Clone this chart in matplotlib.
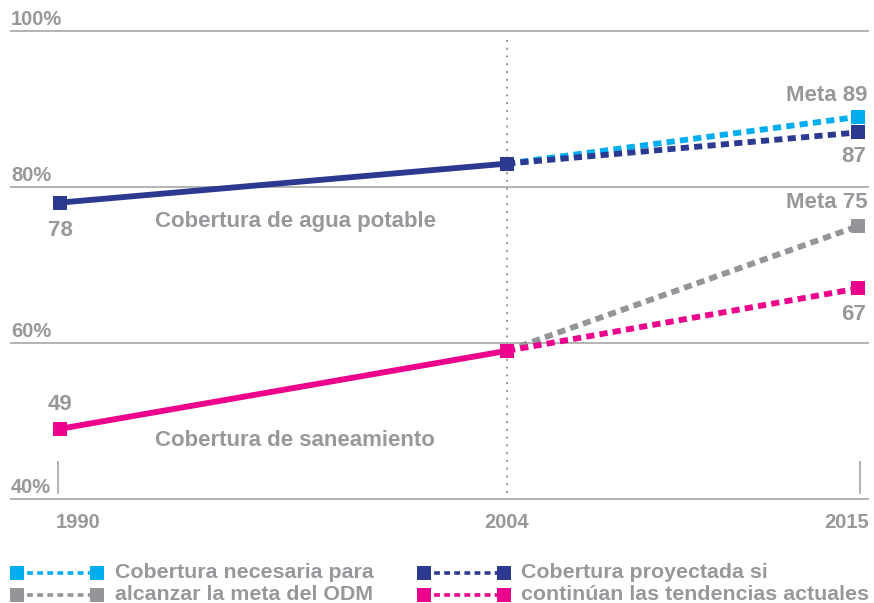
import matplotlib
matplotlib.use("Agg")
import matplotlib.pyplot as plt

# data
years = [1990, 2004, 2015]
agua_hist = [78, 83]          # 1990, 2004
agua_meta = [83, 89]          # 2004 -> 2015 needed for MDG
agua_tend = [83, 87]          # 2004 -> 2015 current trend
san_hist = [49, 59]
san_meta = [59, 75]
san_tend = [59, 67]
y_ticks = [40, 60, 80, 100]
y_tick_labels = ["40%", "60%", "80%", "100%"]

CYAN = "#00aeef"
NAVY = "#2b3990"
GRAY = "#939598"
MAGENTA = "#ec008c"
GRID = "#b3b3b3"
TXT = "#97989b"

plt.rcParams['font.family'] = ['Liberation Sans', 'DejaVu Sans']

W, H = 874, 603
fig = plt.figure(figsize=(W / 100, H / 100), dpi=100)
ax = fig.add_axes([0, 0, 1, 1])
ax.set_axis_off()

# pixel mapping: year 1990 -> x 60, 31.93 px/yr ; 40% -> y 499, 7.8 px per %
ax.set_xlim(1990 - 60 / 31.93, 1990 + (W - 60) / 31.93)
ax.set_ylim(40 - (H - 499) / 7.8, 40 + 499 / 7.8)


def px(x, y):
    # pixel coords (top-left origin) -> axes fraction
    return x / W, 1 - y / H


fs = 16
bold = dict(fontweight="bold", color=TXT, fontsize=fs)
small = dict(fontweight="bold", color=TXT, fontsize=14.5)
leg = dict(fontweight="bold", color=TXT, fontsize=15.4)

# gridlines
for v, lab in zip(y_ticks, y_tick_labels):
    ax.plot([1990 - 49 / 31.93, 2015 + 10 / 31.93], [v, v], color=GRID,
            lw=1.4, zorder=1)
    ax.text(1990 - 49 / 31.93, v + 0.3, lab, ha="left", va="bottom", **small)

# tick marks at 1990 / 2015, dotted at 2004
for yr in [1990 - 2 / 31.93, 2015 + 2 / 31.93]:
    ax.plot([yr, yr], [40.8, 44.8], color=GRID, lw=1.4, zorder=1)
ax.plot([2004, 2004], [40.8, 98.8], color=GRAY, lw=1.4,
        linestyle=(0, (1, 3)), zorder=1)

dash = (0, (1.4, 0.9))
lw = 4.2
ms = 10.5

# projections
ax.plot(years[1:], agua_meta, color=CYAN, lw=lw, linestyle=dash,
        dash_capstyle="butt", zorder=3)
ax.plot(years[1:], agua_tend, color=NAVY, lw=lw, linestyle=dash,
        dash_capstyle="butt", zorder=3)
ax.plot(years[1:], san_meta, color=GRAY, lw=lw, linestyle=dash,
        dash_capstyle="butt", zorder=3)
ax.plot(years[1:], san_tend, color=MAGENTA, lw=lw, linestyle=dash,
        dash_capstyle="butt", zorder=3)
ax.plot(years[2], agua_meta[1], "s", color=CYAN, ms=ms, mew=0, zorder=4)
ax.plot(years[2], agua_tend[1], "s", color=NAVY, ms=ms, mew=0, zorder=4)
ax.plot(years[2], san_meta[1], "s", color=GRAY, ms=ms, mew=0, zorder=4)
ax.plot(years[2], san_tend[1], "s", color=MAGENTA, ms=ms, mew=0, zorder=4)

# history
ax.plot(years[:2], agua_hist, color=NAVY, lw=lw, marker="s", ms=ms, mew=0,
        zorder=5)
ax.plot(years[:2], san_hist, color=MAGENTA, lw=lw, marker="s", ms=ms, mew=0,
        zorder=5)

ax.text(years[0], agua_hist[0] - 3.6, str(agua_hist[0]), ha="center",
        va="center", **bold)
ax.text(years[0], san_hist[0] + 3.1, str(san_hist[0]), ha="center",
        va="center", **bold)
ax.text(*px(868, 95), "Meta %d" % agua_meta[1], ha="right", va="center",
        transform=ax.transAxes, **bold)
ax.text(*px(866, 157), str(agua_tend[1]), ha="right", va="center",
        transform=ax.transAxes, **bold)
ax.text(*px(868, 202), "Meta %d" % san_meta[1], ha="right", va="center",
        transform=ax.transAxes, **bold)
ax.text(*px(866, 315), str(san_tend[1]), ha="right", va="center",
        transform=ax.transAxes, **bold)
ax.text(*px(155, 222), "Cobertura de agua potable", ha="left", va="center",
        transform=ax.transAxes, **bold)
ax.text(*px(155, 441), "Cobertura de saneamiento", ha="left", va="center",
        transform=ax.transAxes, **bold)

# year labels
ax.text(*px(78, 522), "1990", ha="center", va="center",
        transform=ax.transAxes, **small)
ax.text(*px(507, 522), "2004", ha="center", va="center",
        transform=ax.transAxes, **small)
ax.text(*px(869, 522), "2015", ha="right", va="center",
        transform=ax.transAxes, **small)


# legend
def legend_item(x0, y, color):
    xa, ya = px(x0 + 7, y)
    xb, _ = px(x0 + 87, y)
    ax.plot([xa, xb], [ya, ya], color=color, lw=2.6,
            linestyle=(0, (1.6, 1.2)), dash_capstyle="butt",
            transform=ax.transAxes, clip_on=False, zorder=3)
    ax.plot([xa, xb], [ya, ya], "s", color=color, ms=ms, mew=0,
            transform=ax.transAxes, clip_on=False, zorder=4)


legend_item(10, 573, CYAN)
legend_item(10, 595, GRAY)
legend_item(417, 573, NAVY)
legend_item(417, 595, MAGENTA)
ax.text(*px(115, 573), "Cobertura necesaria para", ha="left", va="center",
        transform=ax.transAxes, **leg)
ax.text(*px(115, 594), "alcanzar la meta del ODM", ha="left", va="center",
        transform=ax.transAxes, **leg)
ax.text(*px(521, 573), "Cobertura proyectada si", ha="left", va="center",
        transform=ax.transAxes, **leg)
ax.text(*px(521, 594), "continúan las tendencias actuales", ha="left",
        va="center", transform=ax.transAxes, **leg)

fig.savefig("out.png", dpi=100)
